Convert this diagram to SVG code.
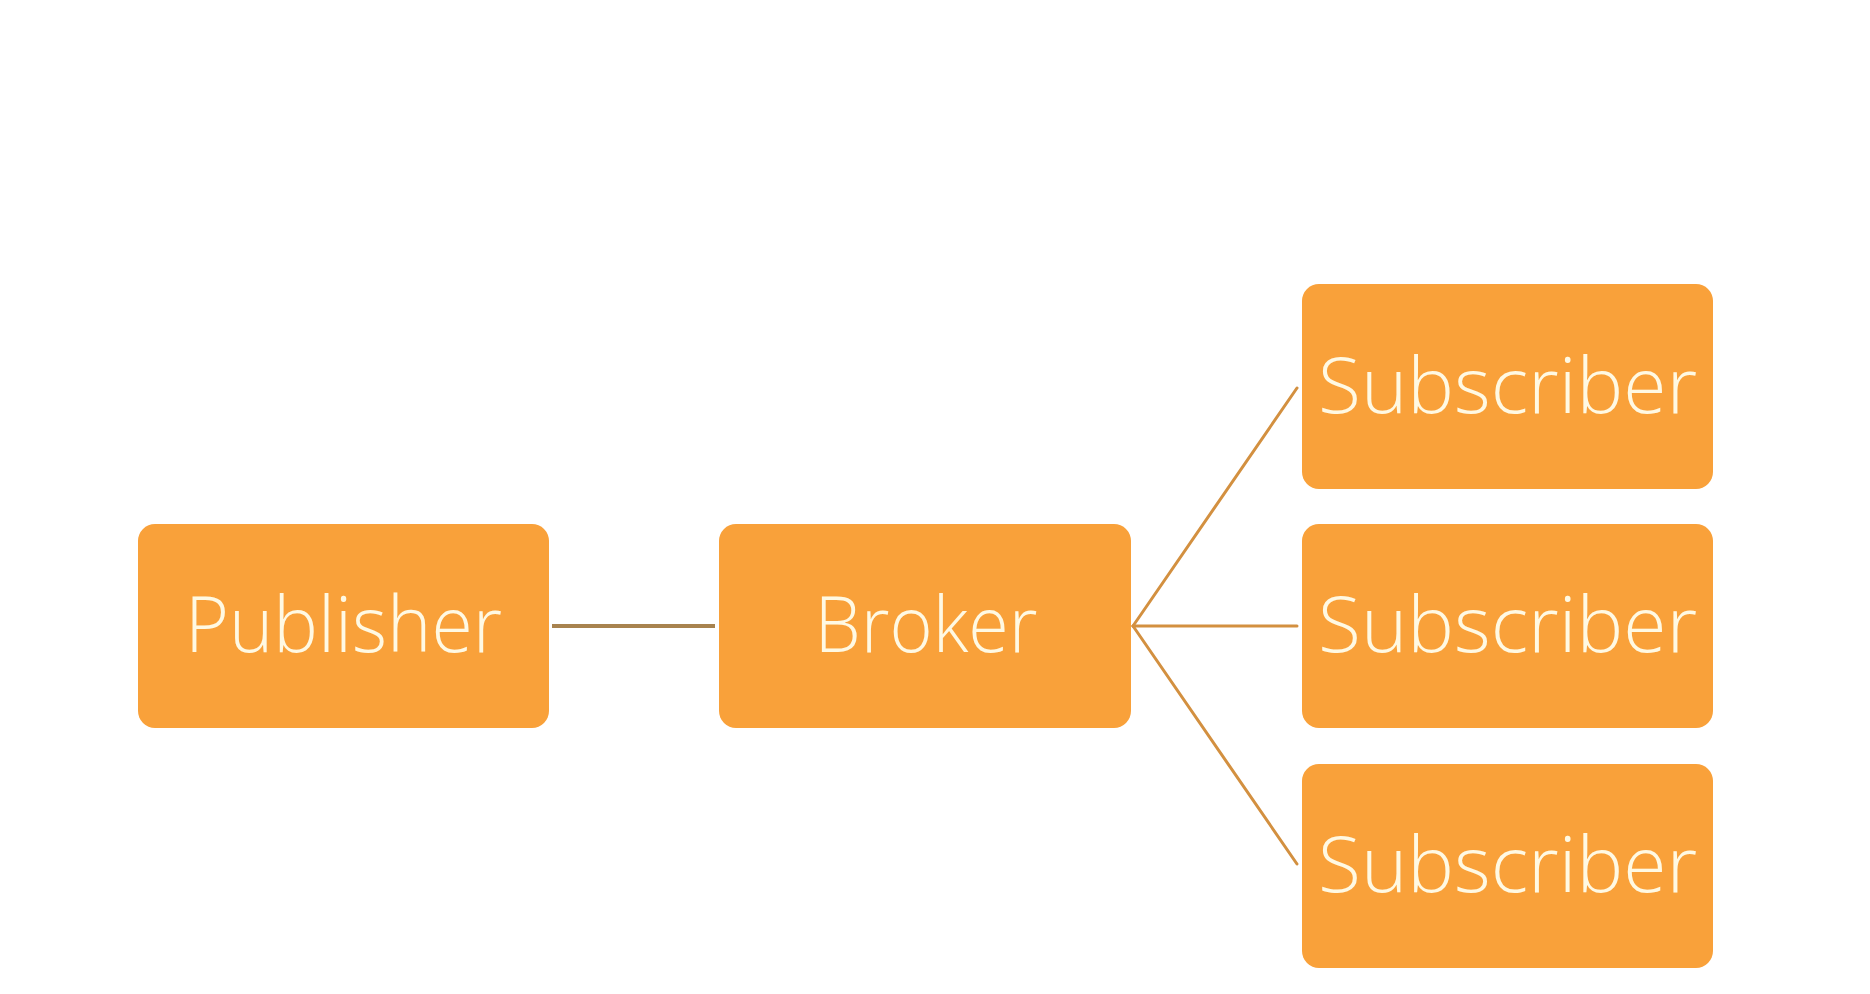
<svg xmlns="http://www.w3.org/2000/svg" width="1870" height="994" viewBox="0 0 1870 994">
  <style>
    .box { fill: #F9A13A; }
    .label { font-family: "Open Sans", "Lato", "DejaVu Sans", sans-serif; font-weight: 300; font-size: 77px; fill: #FFF9E3; text-anchor: middle; }
    .link-main { stroke: #A8834F; stroke-width: 4; fill: none; stroke-linecap: butt; }
    .link { stroke: #D39040; stroke-width: 3; fill: none; stroke-linecap: round; }
  </style>
  <rect width="1870" height="994" fill="#FFFFFF"/>
  <g id="connectors">
    <line class="link-main" x1="552" y1="626" x2="715" y2="626"/>
    <line class="link" x1="1133" y1="626" x2="1297" y2="388"/>
    <line class="link" x1="1133" y1="626" x2="1297" y2="626"/>
    <line class="link" x1="1133" y1="626" x2="1297" y2="864"/>
  </g>
  <g id="publisher">
    <rect class="box" x="138" y="524" width="411" height="204" rx="17" ry="17"/>
    <text class="label" x="343.5" y="652" textLength="317" lengthAdjust="spacingAndGlyphs">Publisher</text>
  </g>
  <g id="broker">
    <rect class="box" x="719" y="524" width="412" height="204" rx="17" ry="17"/>
    <text class="label" x="926" y="652" textLength="223" lengthAdjust="spacingAndGlyphs">Broker</text>
  </g>
  <g id="subscriber1">
    <rect class="box" x="1302" y="284" width="411" height="205" rx="17" ry="17"/>
    <text class="label" x="1507.5" y="413" textLength="379" lengthAdjust="spacingAndGlyphs">Subscriber</text>
  </g>
  <g id="subscriber2">
    <rect class="box" x="1302" y="524" width="411" height="204" rx="17" ry="17"/>
    <text class="label" x="1507.5" y="652" textLength="379" lengthAdjust="spacingAndGlyphs">Subscriber</text>
  </g>
  <g id="subscriber3">
    <rect class="box" x="1302" y="764" width="411" height="204" rx="17" ry="17"/>
    <text class="label" x="1507.5" y="892" textLength="379" lengthAdjust="spacingAndGlyphs">Subscriber</text>
  </g>
</svg>
